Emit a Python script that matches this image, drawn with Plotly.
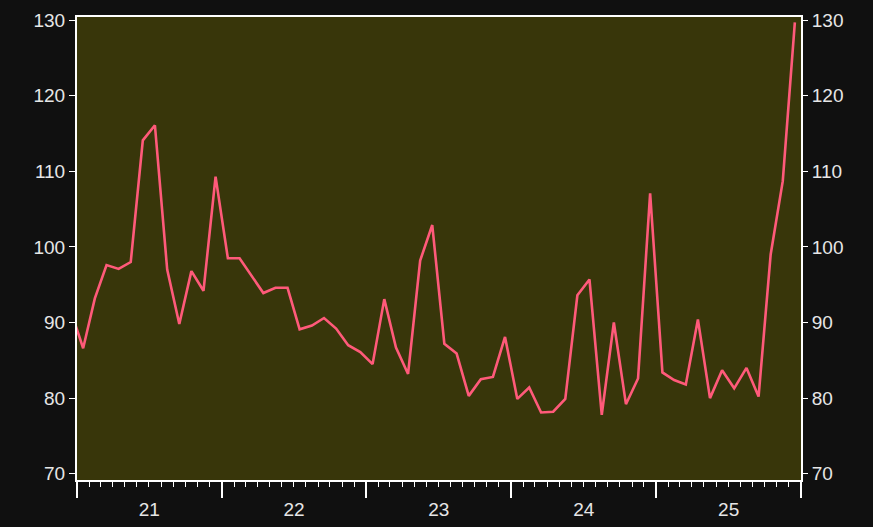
import pandas as pd
import plotly.graph_objects as go

months = pd.period_range("2020-12", "2025-12", freq="M")
values = [
    91.5,
    86.6, 93.2, 97.6, 97.1, 98.0, 114.1, 116.1, 97.0, 89.8, 96.8, 94.2, 109.3,
    98.5, 98.5, 96.2, 93.9, 94.6, 94.6, 89.1, 89.6, 90.6, 89.2, 87.0, 86.1,
    84.5, 93.1, 86.7, 83.2, 98.2, 102.9, 87.2, 85.9, 80.3, 82.5, 82.8, 88.1,
    79.9, 81.4, 78.1, 78.2, 79.9, 93.6, 95.7, 77.8, 90.0, 79.2, 82.6, 107.1,
    83.4, 82.4, 81.8, 90.4, 80.0, 83.7, 81.3, 84.0, 80.2, 99.0, 108.7, 129.7,
]
y_ticks = [70, 80, 90, 100, 110, 120, 130]

# plot each month at the middle of its period
starts = months.to_timestamp(how="start")
ends = (months + 1).to_timestamp(how="start")
x_mid = starts + (ends - starts) / 2

BG = "#101010"
PLOT_BG = "#38360a"
LINE = "#ff5a7a"
FG = "#e6e6e6"
FONT = "Liberation Sans, Arial, sans-serif"
FS = 19
y_range = [69.17, 130.42]

fig = go.Figure()
fig.add_trace(go.Scatter(x=x_mid, y=values, mode="lines",
                         line=dict(color=LINE, width=2.6), showlegend=False,
                         hoverinfo="x+y"))
fig.add_trace(go.Scatter(x=x_mid, y=values, mode="lines", yaxis="y2",
                         line=dict(width=0), opacity=0, showlegend=False,
                         hoverinfo="skip"))

fig.update_layout(
    width=873, height=527,
    margin=dict(l=77, r=72, t=17, b=47, autoexpand=False),
    paper_bgcolor=BG, plot_bgcolor=PLOT_BG,
    font=dict(family=FONT, size=FS, color=FG),
    xaxis=dict(
        type="date", range=["2021-01-01", "2026-01-01"],
        tick0="2021-01-01", dtick="M12", tickformat="%y",
        ticklabelmode="period", automargin=False, ticklabelstandoff=-5,
        ticks="outside", ticklen=16, tickwidth=1.5, tickcolor="#ffffff",
        showline=True, linecolor="#ffffff", linewidth=2, mirror=True,
        showgrid=False, zeroline=False,
        minor=dict(dtick="M1", tick0="2021-01-01", ticks="outside",
                   ticklen=5, tickwidth=1, tickcolor="#ffffff", showgrid=False),
        tickfont=dict(size=FS, color=FG),
    ),
    yaxis=dict(
        range=y_range, tickvals=y_ticks, automargin=False,
        ticks="outside", ticklen=6, tickwidth=1, tickcolor="#ffffff",
        showline=True, linecolor="#ffffff", linewidth=2, mirror=True,
        showgrid=False, zeroline=False,
        tickfont=dict(size=FS, color=FG),
    ),
    yaxis2=dict(
        range=y_range, tickvals=y_ticks, overlaying="y", side="right",
        automargin=False,
        ticks="outside", ticklen=6, tickwidth=1, tickcolor="#ffffff",
        showline=False, showgrid=False, zeroline=False,
        tickfont=dict(size=FS, color=FG),
    ),
)

fig.write_html(
    "out.html",
    config={"displayModeBar": False},
    post_script="document.body.style.margin='0';document.body.style.background='#101010';",
)
